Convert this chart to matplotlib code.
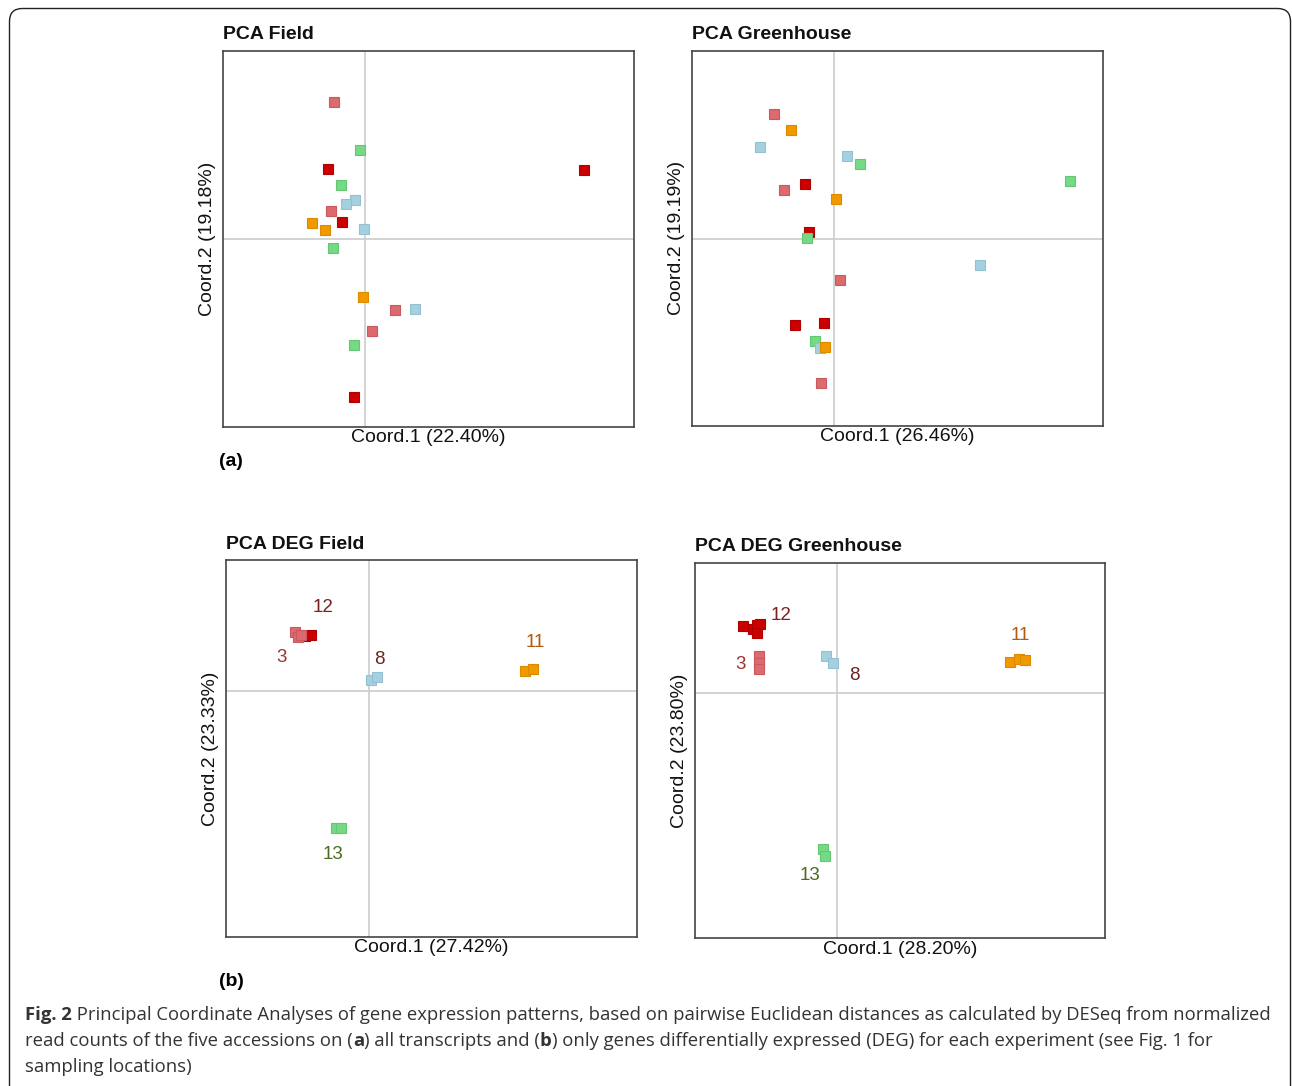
import numpy as np
import matplotlib
matplotlib.use("Agg")
import matplotlib.pyplot as plt
from matplotlib.patches import FancyBboxPatch

W, H = 1292, 1086

# colours of the five accessions
groups = ["red", "pink", "green", "blue", "orange"]
fill = {"red": "#cc0000", "pink": "#dc6a6e", "green": "#76d985",
        "blue": "#a5d0e0", "orange": "#f09a00"}
edge = {"red": "#b00000", "pink": "#c85a5e", "green": "#62c872",
        "blue": "#93c0d2", "orange": "#dd8a00"}

# ---- PCA Field (coordinates in arbitrary units)
fa_x = {"red": [-0.37, 2.19, -0.23, -0.11], "pink": [-0.31, -0.34, 0.30, 0.07],
        "green": [-0.05, -0.24, -0.32, -0.11], "blue": [-0.10, -0.19, -0.01, 0.50],
        "orange": [-0.53, -0.40, -0.02]}
fa_y = {"red": [0.70, 0.69, 0.17, -1.58], "pink": [1.37, 0.28, -0.71, -0.92],
        "green": [0.89, 0.54, -0.09, -1.06], "blue": [0.39, 0.35, 0.10, -0.70],
        "orange": [0.16, 0.09, -0.58]}

# ---- PCA Greenhouse
ga_x = {"red": [-0.29, -0.25, -0.39, -0.10], "pink": [-0.60, -0.50, 0.06, -0.13],
        "green": [0.26, 2.36, -0.27, -0.19], "blue": [-0.74, 0.13, 1.46, -0.14],
        "orange": [-0.43, 0.02, -0.09]}
ga_y = {"red": [0.55, 0.07, -0.86, -0.84], "pink": [1.25, 0.49, -0.41, -1.44],
        "green": [0.75, 0.58, 0.01, -1.02], "blue": [0.92, 0.83, -0.26, -1.09],
        "orange": [1.09, 0.40, -1.08]}

# ---- PCA DEG Field
fd_x = {"pink": [-0.74, -0.71, -0.68], "red": [-0.64, -0.58], "blue": [0.02, 0.08],
        "orange": [1.56, 1.64], "green": [-0.33, -0.28]}
fd_y = {"pink": [0.59, 0.54, 0.56], "red": [0.55, 0.56], "blue": [0.11, 0.14],
        "orange": [0.20, 0.22], "green": [-1.37, -1.37]}
fd_lab = ["12", "3", "8", "11", "13"]
fd_lx = [-0.46, -0.87, 0.10, 1.66, -0.36]
fd_ly = [0.83, 0.33, 0.31, 0.48, -1.64]

# ---- PCA DEG Greenhouse
gd_x = {"red": [-0.94, -0.84, -0.80, -0.77, -0.80], "pink": [-0.78, -0.78, -0.78],
        "blue": [-0.11, -0.04], "orange": [1.73, 1.82, 1.88], "green": [-0.14, -0.12]}
gd_y = {"red": [0.67, 0.64, 0.68, 0.69, 0.60], "pink": [0.37, 0.30, 0.24],
        "blue": [0.37, 0.30], "orange": [0.31, 0.34, 0.33], "green": [-1.56, -1.63]}
gd_lab = ["12", "3", "8", "11", "13"]
gd_lx = [-0.56, -0.96, 0.18, 1.84, -0.27]
gd_ly = [0.77, 0.28, 0.17, 0.57, -1.83]

lab_col = ["#7a2020", "#a03232", "#6e2222", "#b05a12", "#4c6b1e"]

plt.rcParams["font.family"] = ["Liberation Sans", "DejaVu Sans"]
fig = plt.figure(figsize=(W / 100, H / 100), dpi=100)


def px_axes(l, t, r, b):
    return fig.add_axes([l / W, 1 - b / H, (r - l) / W, (b - t) / H])


def panel(box, xl, yl, xs, ys, title, xlab, ylab, ms, labels=None):
    ax = px_axes(*box)
    ax.axvline(0, color="#cccccc", lw=1.2, zorder=1)
    ax.axhline(0, color="#cccccc", lw=1.2, zorder=1)
    for g in groups:
        if g in xs:
            ax.plot(xs[g], ys[g], "s", ms=ms, mfc=fill[g], mec=edge[g], mew=0.8,
                    zorder=3)
    if labels:
        for txt, lx, ly, c in zip(*labels, lab_col):
            ax.text(lx, ly, txt, color=c, fontsize=13.5, ha="center", va="center")
    ax.set_xlim(*xl)
    ax.set_ylim(*yl)
    ax.set_xticks([])
    ax.set_yticks([])
    for s in ax.spines.values():
        s.set_color("#444444")
        s.set_linewidth(1.2)
    ax.set_xlabel(xlab, fontsize=14, labelpad=2, color="#111111")
    ax.set_ylabel(ylab, fontsize=14, labelpad=5, color="#111111")
    fig.text(box[0] / W, 1 - (box[1] - 16) / H, title, fontsize=14,
             fontweight="bold", va="center", ha="left", color="#111111")
    return ax


panel((223, 50.7, 633.7, 426.7), (-1.423, 2.684), (-1.877, 1.883), fa_x, fa_y,
      "PCA Field", "Coord.1 (22.40%)", "Coord.2 (19.18%)", 7.4)
panel((692, 50.7, 1102.7, 425.7), (-1.42, 2.687), (-1.87, 1.88), ga_x, ga_y,
      "PCA Greenhouse", "Coord.1 (26.46%)", "Coord.2 (19.19%)", 7.4)
panel((226.3, 560, 636.7, 936.7), (-1.427, 2.677), (-2.46, 1.307), fd_x, fd_y,
      "PCA DEG Field", "Coord.1 (27.42%)", "Coord.2 (23.33%)", 6.6,
      (fd_lab, fd_lx, fd_ly))
panel((694.7, 562.7, 1105.3, 938), (-1.42, 2.686), (-2.453, 1.30), gd_x, gd_y,
      "PCA DEG Greenhouse", "Coord.1 (28.20%)", "Coord.2 (23.80%)", 6.6,
      (gd_lab, gd_lx, gd_ly))

fig.text(219 / W, 1 - 462 / H, "(a)", fontsize=14, fontweight="bold", va="center")
fig.text(219 / W, 1 - 982 / H, "(b)", fontsize=14, fontweight="bold", va="center")

# rounded frame around the figure
frame = FancyBboxPatch((9.5 / W, -0.05), (1290.5 - 9.5) / W, 1 - 8.5 / H + 0.05,
                       boxstyle="round,pad=0,rounding_size=0.01",
                       transform=fig.transFigure, fill=False, ec="#222222",
                       lw=1.0, mutation_aspect=W / H)
fig.add_artist(frame)

# caption with bold runs
renderer = fig.canvas.get_renderer()
cap_font = ["Open Sans", "DejaVu Sans"]


def runs(x, y, parts):
    for txt, bold in parts:
        t = fig.text(x / W, 1 - y / H, txt, fontsize=13.3, family=cap_font,
                     fontweight="bold" if bold else "normal", va="center",
                     color="#333333")
        x = t.get_window_extent(renderer).x1


runs(25, 1015, [("Fig. 2", True),
                (" Principal Coordinate Analyses of gene expression patterns, based on "
                 "pairwise Euclidean distances as calculated by DESeq from normalized", False)])
runs(25, 1041, [("read counts of the five accessions on (", False), ("a", True),
                (") all transcripts and (", False), ("b", True),
                (") only genes differentially expressed (DEG) for each experiment "
                 "(see Fig. 1 for", False)])
runs(25, 1067, [("sampling locations)", False)])

fig.savefig("out.png", dpi=100)
